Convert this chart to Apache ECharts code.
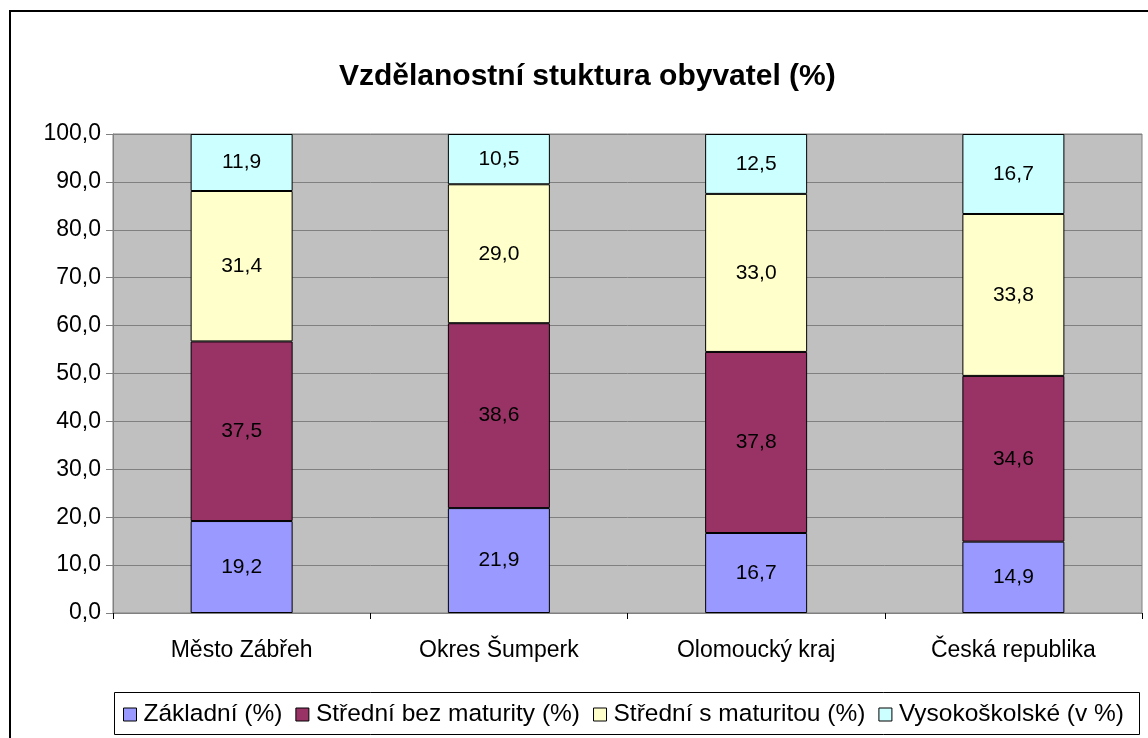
<!DOCTYPE html>
<html>
<head>
<meta charset="utf-8">
<script src="https://cdn.jsdelivr.net/npm/echarts@6/dist/echarts.min.js"></script>
<style>
  html, body { margin: 0; padding: 0; background: #fff; }
  #chart { width: 1148px; height: 738px; }
</style>
</head>
<body>
<div id="chart"></div>
<script>
var categories = ['Město Zábřeh', 'Okres Šumperk', 'Olomoucký kraj', 'Česká republika'];
var zakladni = [19.2, 21.9, 16.7, 14.9];
var bezMaturity = [37.5, 38.6, 37.8, 34.6];
var sMaturitou = [31.4, 29.0, 33.0, 33.8];
var vysokoskolske = [11.9, 10.5, 12.5, 16.7];
var seriesNames = ['Základní (%)', 'Střední bez maturity (%)', 'Střední s maturitou (%)', 'Vysokoškolské (v %)'];

(function () {
    var myChart = echarts.init(document.getElementById('chart'));
    var font = '"Liberation Sans", Arial, sans-serif';

    function fmt(v) {
        return Number(v).toFixed(1).replace('.', ',');
    }

    function bar(name, data, color) {
        return {
            name: name,
            type: 'bar',
            stack: 'total',
            barWidth: 102,
            data: data,
            itemStyle: { color: color, borderColor: '#000', borderWidth: 1 },
            label: {
                show: true,
                position: 'inside',
                color: '#000',
                fontFamily: font,
                fontSize: 21,
                formatter: function (p) { return fmt(p.value); }
            }
        };
    }

    var option = {
        animation: false,
        backgroundColor: '#fff',
        title: {
            text: 'Vzdělanostní stuktura obyvatel (%)',
            left: 334,
            top: 57,
            textStyle: { color: '#000', fontFamily: font, fontSize: 30, fontWeight: 'bold' }
        },
        graphic: [
            {
                type: 'rect',
                shape: { x: 10, y: 11, width: 1160, height: 760 },
                style: { fill: 'none', stroke: '#000', lineWidth: 2 },
                silent: true,
                z: 100
            },
            {
                type: 'rect',
                shape: { x: 114.5, y: 692.5, width: 1025, height: 42 },
                style: { fill: '#fff', stroke: '#000', lineWidth: 1 },
                silent: true,
                z: 0
            }
        ],
        legend: {
            data: seriesNames,
            left: 118,
            top: 697,
            icon: 'rect',
            itemWidth: 13,
            itemHeight: 13,
            itemGap: 13,
            textStyle: { color: '#000', fontFamily: font, fontSize: 24.5, padding: [0, 0, 0, 2] },
            itemStyle: { borderColor: '#000', borderWidth: 1 },
            z: 10
        },
        grid: {
            left: 113,
            right: 6,
            top: 134,
            bottom: 125,
            show: true,
            backgroundColor: '#C0C0C0',
            borderColor: '#808080',
            borderWidth: 1
        },
        xAxis: {
            type: 'category',
            data: categories,
            axisLine: { lineStyle: { color: '#808080', width: 1 } },
            axisTick: { show: true, length: 6, lineStyle: { color: '#000' } },
            axisLabel: { color: '#000', fontFamily: font, fontSize: 23, margin: 26 }
        },
        yAxis: {
            type: 'value',
            min: 0,
            max: 100,
            interval: 10,
            axisLine: { show: true, lineStyle: { color: '#808080', width: 1 } },
            axisTick: { show: true, length: 7, lineStyle: { color: '#808080' } },
            axisLabel: { color: '#000', fontFamily: font, fontSize: 23, margin: 12, formatter: fmt },
            splitLine: { lineStyle: { color: '#808080', width: 1 } }
        },
        series: [
            bar(seriesNames[0], zakladni, '#9999FF'),
            bar(seriesNames[1], bezMaturity, '#993366'),
            bar(seriesNames[2], sMaturitou, '#FFFFCC'),
            bar(seriesNames[3], vysokoskolske, '#CCFFFF')
        ]
    };

    myChart.setOption(option);
    window.addEventListener('resize', function () {
        myChart.resize();
    });
})();
</script>
</body>
</html>
